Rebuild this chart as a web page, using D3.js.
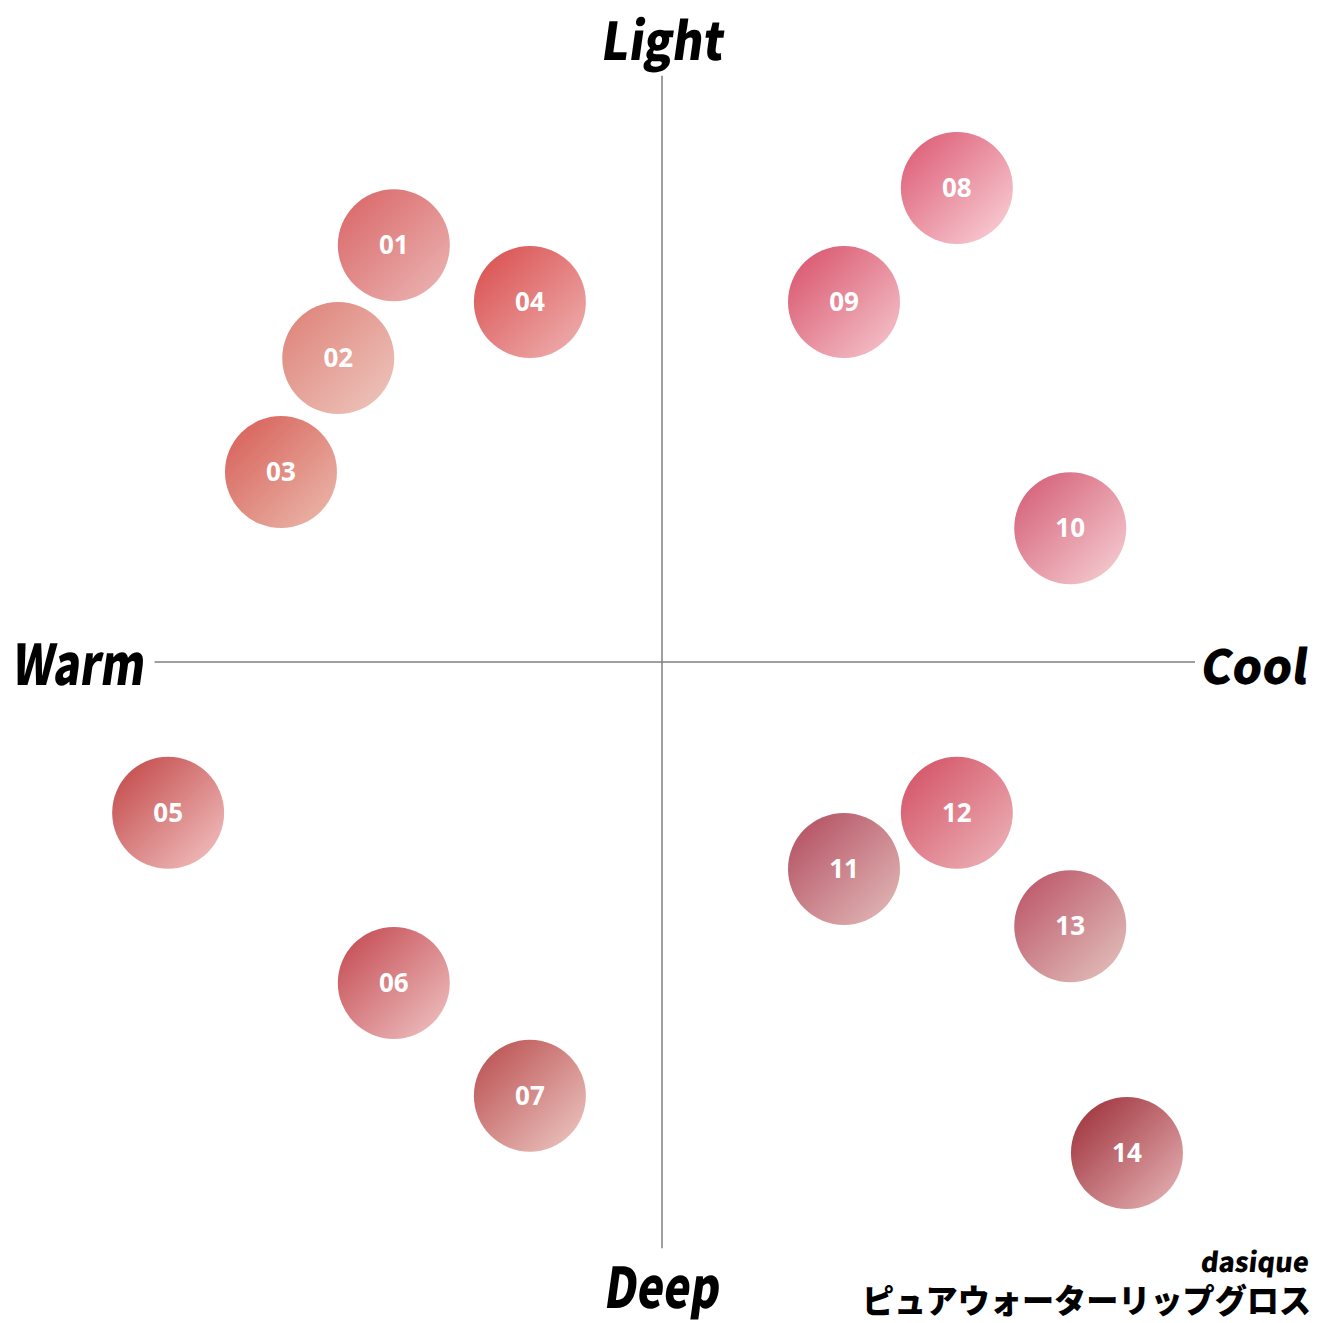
<!DOCTYPE html>
<html>
<head>
<meta charset="utf-8">
<script src="https://cdn.jsdelivr.net/npm/d3@7"></script>
<style>
  body { margin: 0; background: #fff; }
  .num { font-family: "Open Sans", sans-serif; font-weight: 700; fill: #fff; }
  .lbl { font-family: "Noto Sans CJK JP", sans-serif; font-weight: 900; fill: #000; }
</style>
</head>
<body>
<svg id="chart" width="1323" height="1323"></svg>
<script>
// shade numbers and their position on the map (x: warm -> cool, y: deep -> light)
var shades = ["01","02","03","04","05","06","07","08","09","10","11","12","13","14"];
var coolness = [-4.73,-5.71,-6.72,-2.33,-8.71,-4.73,-2.33,5.20,3.21,7.20,3.21,5.20,7.20,8.20];
var lightness = [7.35,5.36,3.35,6.35,-2.66,-5.66,-7.65,8.36,6.35,2.36,-3.65,-2.66,-4.66,-8.66];
var colorFrom = ["#dc6f70","#e08a80","#d96a62","#dc5a5a","#c85656","#c9585e","#c05d5d","#e0687f","#dc6077","#d86a80","#b85a6a","#d65c6e","#c06070","#a63f48"];
var colorTo   = ["#ebb8b6","#eec8c0","#ecbcae","#f0b4b4","#f4c6c6","#f0c6c6","#eecbc6","#fad6dc","#f6cad0","#f7d4d8","#e4bebc","#eeb8bd","#e4c6c0","#e8b8ba"];

var axisX = [-8.95, 9.40];   // extent of horizontal axis line
var axisY = [-10.34, 10.34]; // extent of vertical axis line

var svg = d3.select("#chart");
var cx = 662, cy = 662, unit = 56.7;

var x = d3.scaleLinear().domain([-10, 10]).range([cx - 10*unit, cx + 10*unit]);
var y = d3.scaleLinear().domain([-10, 10]).range([cy + 10*unit, cy - 10*unit]);

var data = shades.map(function(s, i) {
  return {id: s, x: coolness[i], y: lightness[i], c0: colorFrom[i], c1: colorTo[i]};
});

// gradients, dark at top-left, pale at bottom-right
var defs = svg.append("defs");
var grads = defs.selectAll("linearGradient").data(data).enter()
  .append("linearGradient")
  .attr("id", function(d) { return "g" + d.id; })
  .attr("x1", 0).attr("y1", 0).attr("x2", 1).attr("y2", 1);
grads.append("stop").attr("offset", "0.15").attr("stop-color", function(d) { return d.c0; });
grads.append("stop").attr("offset", "1").attr("stop-color", function(d) { return d.c1; });

// axes
svg.append("line")
  .attr("x1", x(axisX[0])).attr("x2", x(axisX[1]))
  .attr("y1", y(0)).attr("y2", y(0))
  .attr("stroke", "#7f7f7f").attr("stroke-width", 1.5);
svg.append("line")
  .attr("x1", x(0)).attr("x2", x(0))
  .attr("y1", y(axisY[1])).attr("y2", y(axisY[0]))
  .attr("stroke", "#7f7f7f").attr("stroke-width", 1.5);

// bubbles
var g = svg.append("g");
g.selectAll("circle").data(data).enter()
  .append("circle")
  .attr("cx", function(d) { return x(d.x); })
  .attr("cy", function(d) { return y(d.y); })
  .attr("r", 56)
  .attr("fill", function(d) { return "url(#g" + d.id + ")"; });
g.selectAll("text").data(data).enter()
  .append("text")
  .attr("class", "num")
  .attr("x", function(d) { return x(d.x); })
  .attr("y", function(d) { return y(d.y) + 9; })
  .attr("text-anchor", "middle")
  .attr("font-size", 26)
  .text(function(d) { return d.id; });

// corner labels
function label(txt, px, py, size, len, skew, anchor) {
  var t = svg.append("text")
    .attr("class", "lbl")
    .attr("transform", "translate(" + px + "," + py + ") skewX(" + skew + ")")
    .attr("font-size", size)
    .attr("text-anchor", anchor || "start")
    .text(txt);
  if (len) t.attr("textLength", len).attr("lengthAdjust", "spacingAndGlyphs");
}
label("Light", 600, 60, 52, 122, -8);
label("Warm", 11, 685, 56, 132, -8);
label("Cool", 1306, 684, 47, 0, -8, "end");
label("Deep", 603, 1308, 56, 115, -8);
label("dasique", 1308, 1272, 27, 0, -6, "end");
label("ピュアウォーターリップグロス", 1311, 1313, 33, 449, 0, "end");
</script>
</body>
</html>
